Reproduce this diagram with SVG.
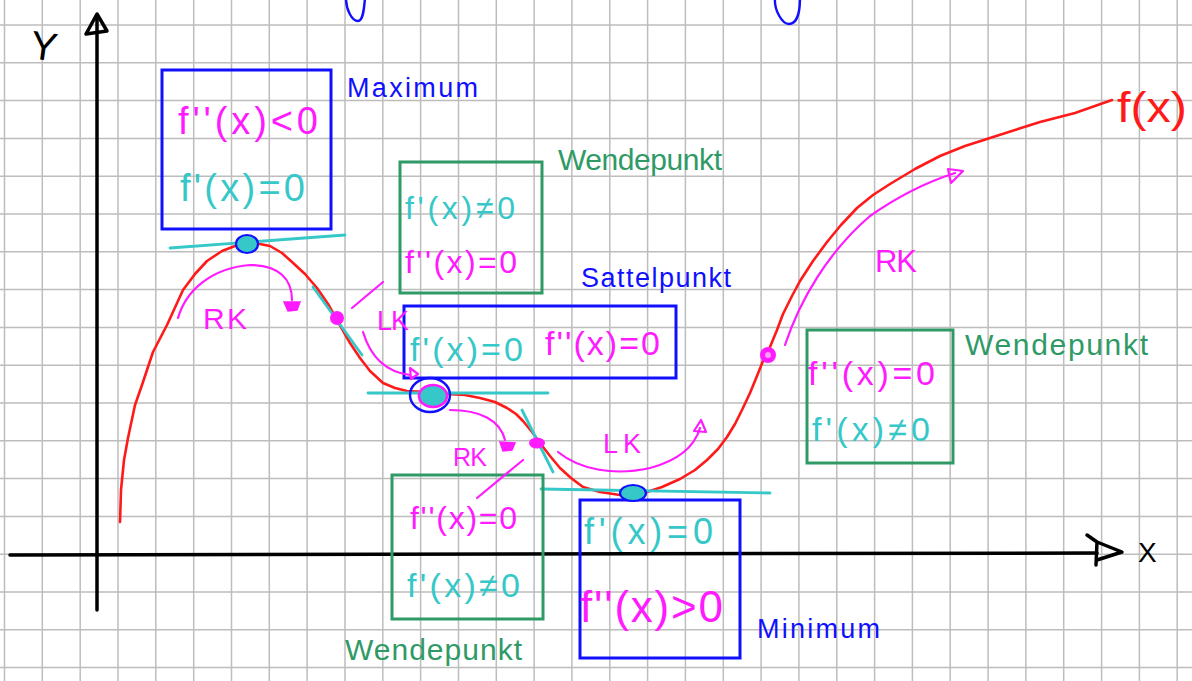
<svg xmlns="http://www.w3.org/2000/svg" width="1192" height="681" viewBox="0 0 1192 681">
<style>
text{font-family:"Liberation Sans",Arial,sans-serif}
.grid{stroke:#bdbdbd;stroke-width:1.5;fill:none}
.ax{stroke:#000;stroke-width:3.5;fill:none;stroke-linecap:round;stroke-linejoin:round}
.bbox{fill:none;stroke:#1010ff;stroke-width:3}
.gbox{fill:none;stroke:#2f9a66;stroke-width:3}
.m{fill:#ff1aff}
.c{fill:#36c8c8}
.b{fill:#1010ff}
.g{fill:#2f9a66}
.r{fill:#ff1a1a}
.k{fill:#000}
.mline{fill:none;stroke:#ff1aff;stroke-width:2.2;stroke-linecap:round;stroke-linejoin:round}
.tan{stroke:#36c8c8;stroke-width:2.8;stroke-linecap:round}
.curve{fill:none;stroke:#ff1a1a;stroke-width:2.6;stroke-linecap:round;stroke-linejoin:round}
.pt{stroke:#1010ff;stroke-width:2.2;fill:#36c8c8}
</style>
<rect width="1192" height="681" fill="#fff"/>
<path class="grid" d="M4.5,0V681M42.3,0V681M80.2,0V681M118,0V681M155.8,0V681M193.7,0V681M231.5,0V681M269.3,0V681M307.1,0V681M345,0V681M382.8,0V681M420.6,0V681M458.5,0V681M496.3,0V681M534.1,0V681M571.9,0V681M609.8,0V681M647.6,0V681M685.4,0V681M723.3,0V681M761.1,0V681M798.9,0V681M836.8,0V681M874.6,0V681M912.4,0V681M950.2,0V681M988.1,0V681M1025.9,0V681M1063.7,0V681M1101.6,0V681M1139.4,0V681M1177.2,0V681M0,25H1192M0,62.8H1192M0,100.6H1192M0,138.4H1192M0,176.2H1192M0,214H1192M0,251.8H1192M0,289.6H1192M0,327.4H1192M0,365.2H1192M0,403H1192M0,440.8H1192M0,478.6H1192M0,516.4H1192M0,554.2H1192M0,592H1192M0,629.8H1192M0,667.6H1192"/>

<g id="top-fragments" fill="none" stroke="#1010ff" stroke-width="2.4" stroke-linecap="round">
<path d="M346,-2 C346,10 352,21 358,21 C363,21 364,10 365,-2"/>
<path d="M775,-2 C774,10 782,24 789,24 C797,24 800,12 800,-2"/>
</g>

<g id="axes">
<path class="ax" d="M97,16 L97,610"/>
<path class="ax" d="M86,34 L97,14 L107,31 Z" stroke-width="3"/>
<path class="ax" d="M10,555 L1097,553"/>
<path class="ax" d="M1087,535 L1097,542 L1096,565 M1097,542 L1122,552 L1097,560" stroke-width="3"/>
<text class="k" x="31" y="60" font-size="40" transform="rotate(8 45 42)">Y</text>
<text class="k" x="1138" y="562" font-size="28">X</text>
</g>

<g id="function-curve">
<polyline class="curve" points="120,522 121,490 124,460 128,438 135,405 142,385 153,352 167,325 183,290 195,274 207,261 222,251 235,246 247,244 260,244 270,246 282,253 292,262 305,274 317,288 328,304 337,320 350,343 360,358 370,371 383,383 395,388 407,391 428,392 447,394 465,395 480,398 495,402 507,408 516,414 523,421 532,432 540,443 550,456 560,468 571,478 583,487 600,492 620,495 635,494 647,492 662,487 680,479 695,470 707,460 718,449 727,437 735,424 742,410 750,393 757,376 763,361 770,347 777,330 783,314 792,296 800,281 813,261 827,242 841,225 857,208 873,195 890,184 915,169 940,156 965,146 990,138 1015,130 1040,122 1075,113 1112,100"/>
<text class="r" x="1117" y="122" font-size="42" textLength="70" lengthAdjust="spacingAndGlyphs">f(x)</text>
</g>

<g id="tangents">
<line class="tan" x1="170" y1="248" x2="345" y2="235"/>
<line class="tan" x1="313" y1="287" x2="362" y2="355"/>
<line class="tan" x1="368" y1="393" x2="548" y2="393"/>
<line class="tan" x1="522" y1="410" x2="553" y2="472"/>
<line class="tan" x1="541" y1="489" x2="770" y2="493"/>
</g>

<g id="maximum">
<rect class="bbox" x="162" y="70" width="169" height="159"/>
<text class="m" x="178" y="134" font-size="38" textLength="140" lengthAdjust="spacing">f''(x)&lt;0</text>
<text class="c" x="180" y="201" font-size="38" textLength="125" lengthAdjust="spacing">f'(x)=0</text>
<text class="b" x="347" y="97" font-size="27" textLength="131" lengthAdjust="spacing">Maximum</text>
<ellipse class="pt" cx="247" cy="244" rx="11" ry="9"/>
</g>

<g id="wendepunkt-1">
<rect class="gbox" x="400" y="162" width="142" height="131"/>
<text class="c" x="405" y="219" font-size="32" textLength="110" lengthAdjust="spacing">f'(x)≠0</text>
<text class="m" x="405" y="273" font-size="32" textLength="112" lengthAdjust="spacing">f''(x)=0</text>
<text class="g" x="558" y="170" font-size="30" textLength="164" lengthAdjust="spacing">Wendepunkt</text>
<circle cx="337" cy="318" r="7" fill="#ff1aff"/>
</g>

<g id="sattelpunkt">
<rect class="bbox" x="404" y="306" width="272" height="72"/>
<text class="c" x="410" y="361" font-size="34" textLength="113" lengthAdjust="spacing">f'(x)=0</text>
<text class="m" x="545" y="355" font-size="34" textLength="115" lengthAdjust="spacing">f''(x)=0</text>
<text class="b" x="581" y="287" font-size="27" textLength="150" lengthAdjust="spacing">Sattelpunkt</text>
<ellipse cx="430" cy="395" rx="20" ry="17" fill="none" stroke="#1010ff" stroke-width="2.4"/>
<ellipse cx="433" cy="396" rx="14" ry="11" fill="#36c8c8" stroke="#ff1aff" stroke-width="2.6"/>
</g>

<g id="wendepunkt-2">
<rect class="gbox" x="392" y="475" width="151" height="144"/>
<text class="m" x="410" y="529" font-size="32" textLength="107" lengthAdjust="spacing">f''(x)=0</text>
<text class="c" x="407" y="597" font-size="34" textLength="113" lengthAdjust="spacing">f'(x)≠0</text>
<text class="g" x="345" y="660" font-size="30" textLength="177" lengthAdjust="spacing">Wendepunkt</text>
<ellipse cx="537" cy="443" rx="8" ry="5.5" fill="#ff1aff"/>
</g>

<g id="minimum">
<rect class="bbox" x="580" y="500" width="160" height="158"/>
<text class="c" x="584" y="544" font-size="36" textLength="129" lengthAdjust="spacing">f'(x)=0</text>
<text class="m" x="580" y="622" font-size="44" textLength="143" lengthAdjust="spacing">f''(x)&gt;0</text>
<text class="b" x="757" y="638" font-size="27" textLength="123" lengthAdjust="spacing">Minimum</text>
<ellipse class="pt" cx="633" cy="493" rx="13" ry="8"/>
</g>

<g id="wendepunkt-3">
<rect class="gbox" x="807" y="330" width="146" height="133"/>
<text class="m" x="808" y="385" font-size="34" textLength="127" lengthAdjust="spacing">f''(x)=0</text>
<text class="c" x="812" y="441" font-size="34" textLength="118" lengthAdjust="spacing">f'(x)≠0</text>
<text class="g" x="965" y="355" font-size="30" textLength="183" lengthAdjust="spacing">Wendepunkt</text>
<circle cx="768" cy="355" r="8" fill="#ff1aff"/>
<circle cx="768" cy="355" r="3" fill="#ff9aff"/>
</g>

<g id="connectors">
<path class="mline" d="M178,318 C186,290 212,268 250,265 C280,265 292,280 292,300"/>
<path d="M284,302 L300,302 L297,310 L288,311 Z" fill="#ff1aff" stroke="#ff1aff" stroke-width="1.5"/>
<text class="m" x="203" y="329" font-size="30" textLength="44" lengthAdjust="spacing">RK</text>

<path class="mline" d="M352,308 L383,282"/>
<path class="mline" d="M363,332 C370,355 385,372 410,375"/>
<path class="mline" d="M410,368 L418,374 L411,379 Z"/>
<text class="m" x="377" y="330" font-size="27" textLength="32" lengthAdjust="spacing">LK</text>

<path class="mline" d="M450,410 C480,410 500,420 505,440"/>
<path d="M500,442 L515,443 L512,450 L503,451 Z" fill="#ff1aff" stroke="#ff1aff" stroke-width="1.5"/>
<text class="m" x="453" y="466" font-size="25" textLength="34" lengthAdjust="spacing">RK</text>

<path class="mline" d="M523,460 L477,498"/>
<path class="mline" d="M558,452 C580,470 615,476 650,468 C680,460 695,445 700,428"/>
<path class="mline" d="M694,431 L701,420 L706,432 Z"/>
<text class="m" x="603" y="453" font-size="27" textLength="38" lengthAdjust="spacing">LK</text>

<path class="mline" d="M785,345 C800,300 828,252 870,216 C900,195 930,181 955,173"/>
<path class="mline" d="M948,169 L963,171 L951,183 Z"/>
<text class="m" x="875" y="272" font-size="31" textLength="42" lengthAdjust="spacing">RK</text>
</g>
</svg>
